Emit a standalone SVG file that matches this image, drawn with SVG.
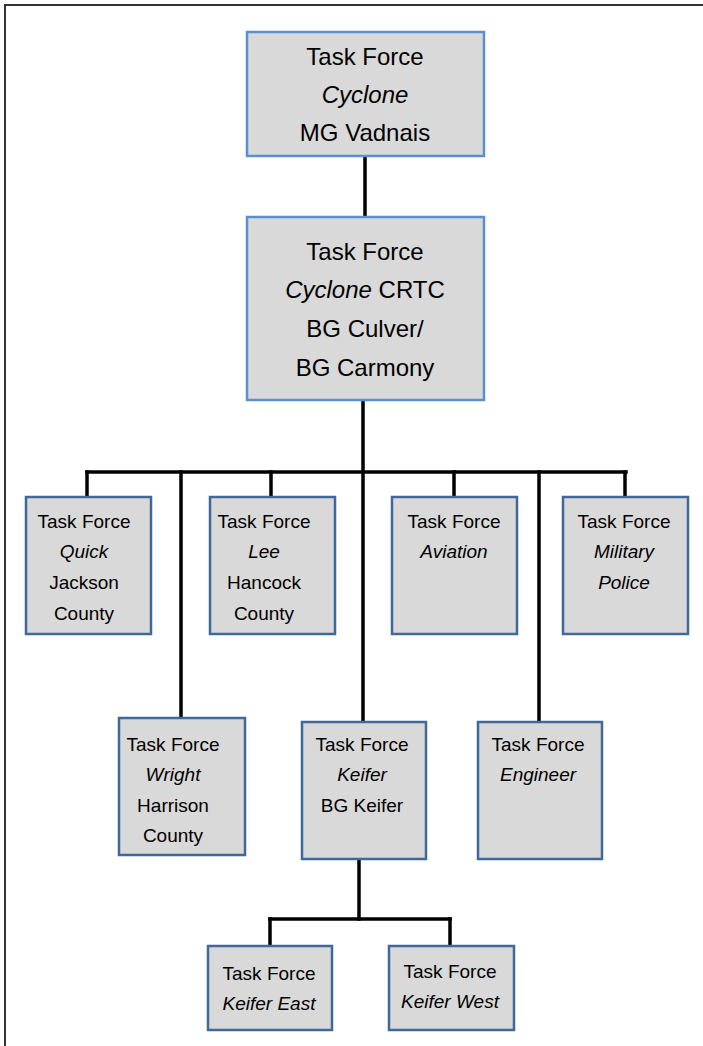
<svg xmlns="http://www.w3.org/2000/svg" width="703" height="1046" viewBox="0 0 703 1046">
<style>
.bg{fill:#ffffff}
.frame{fill:none;stroke:#333333;stroke-width:2}
.big{fill:#d9d9d9;stroke:#5b8fd0;stroke-width:2.5}
.box{fill:#d9d9d9;stroke:#41689c;stroke-width:2.5}
.conn{fill:none;stroke:#000000;stroke-width:3.5;stroke-linecap:square}
text{font-family:"Liberation Sans",Arial,sans-serif;fill:#000000;text-anchor:middle}
.t1{font-size:24px}
.t2{font-size:19px}
.i{font-style:italic}
</style>
<rect class="bg" x="0" y="0" width="703" height="1046"/>
<rect class="frame" x="5" y="5" width="712" height="1060"/>
<g id="connectors">
<line class="conn" x1="365" y1="157" x2="365" y2="217"/>
<line class="conn" x1="363" y1="399" x2="363" y2="720"/>
<line class="conn" x1="87" y1="472" x2="626" y2="472"/>
<line class="conn" x1="87" y1="472" x2="87" y2="497"/>
<line class="conn" x1="271" y1="472" x2="271" y2="497"/>
<line class="conn" x1="454" y1="472" x2="454" y2="497"/>
<line class="conn" x1="625" y1="472" x2="625" y2="497"/>
<line class="conn" x1="181" y1="472" x2="181" y2="718"/>
<line class="conn" x1="539" y1="472" x2="539" y2="722"/>
<line class="conn" x1="359" y1="859" x2="359" y2="919"/>
<line class="conn" x1="270" y1="919" x2="450" y2="919"/>
<line class="conn" x1="270" y1="919" x2="270" y2="946"/>
<line class="conn" x1="450" y1="919" x2="450" y2="946"/>
</g>
<g id="tf-cyclone">
<rect class="big" x="247" y="32" width="237" height="124"/>
<text class="t1" x="365" y="65">Task Force</text>
<text class="t1 i" x="365" y="103">Cyclone</text>
<text class="t1" x="365" y="141">MG Vadnais</text>
</g>
<g id="tf-cyclone-crtc">
<rect class="big" x="247" y="217" width="237" height="183"/>
<text class="t1" x="365" y="260">Task Force</text>
<text class="t1" x="365" y="298"><tspan class="i">Cyclone</tspan> CRTC</text>
<text class="t1" x="365" y="337">BG Culver/</text>
<text class="t1" x="365" y="376">BG Carmony</text>
</g>
<g id="tf-quick">
<rect class="box" x="26" y="497" width="125" height="137"/>
<text class="t2" x="84" y="528">Task Force</text>
<text class="t2 i" x="84" y="558">Quick</text>
<text class="t2" x="84" y="589">Jackson</text>
<text class="t2" x="84" y="620">County</text>
</g>
<g id="tf-lee">
<rect class="box" x="210" y="497" width="125" height="137"/>
<text class="t2" x="264" y="528">Task Force</text>
<text class="t2 i" x="264" y="558">Lee</text>
<text class="t2" x="264" y="589">Hancock</text>
<text class="t2" x="264" y="620">County</text>
</g>
<g id="tf-aviation">
<rect class="box" x="392" y="497" width="125" height="137"/>
<text class="t2" x="454" y="528">Task Force</text>
<text class="t2 i" x="454" y="558">Aviation</text>
</g>
<g id="tf-mp">
<rect class="box" x="563" y="497" width="125" height="137"/>
<text class="t2" x="624" y="528">Task Force</text>
<text class="t2 i" x="624" y="558">Military</text>
<text class="t2 i" x="624" y="589">Police</text>
</g>
<g id="tf-wright">
<rect class="box" x="119" y="718" width="126" height="137"/>
<text class="t2" x="173" y="751">Task Force</text>
<text class="t2 i" x="173" y="781">Wright</text>
<text class="t2" x="173" y="812">Harrison</text>
<text class="t2" x="173" y="842">County</text>
</g>
<g id="tf-keifer">
<rect class="box" x="302" y="722" width="124" height="137"/>
<text class="t2" x="362" y="751">Task Force</text>
<text class="t2 i" x="362" y="781">Keifer</text>
<text class="t2" x="362" y="812">BG Keifer</text>
</g>
<g id="tf-engineer">
<rect class="box" x="478" y="722" width="124" height="137"/>
<text class="t2" x="538" y="751">Task Force</text>
<text class="t2 i" x="538" y="781">Engineer</text>
</g>
<g id="tf-keifer-east">
<rect class="box" x="208" y="946" width="124" height="84"/>
<text class="t2" x="269" y="980">Task Force</text>
<text class="t2 i" x="269" y="1010">Keifer East</text>
</g>
<g id="tf-keifer-west">
<rect class="box" x="389" y="946" width="125" height="84"/>
<text class="t2" x="450" y="978">Task Force</text>
<text class="t2 i" x="450" y="1008">Keifer West</text>
</g>
</svg>
